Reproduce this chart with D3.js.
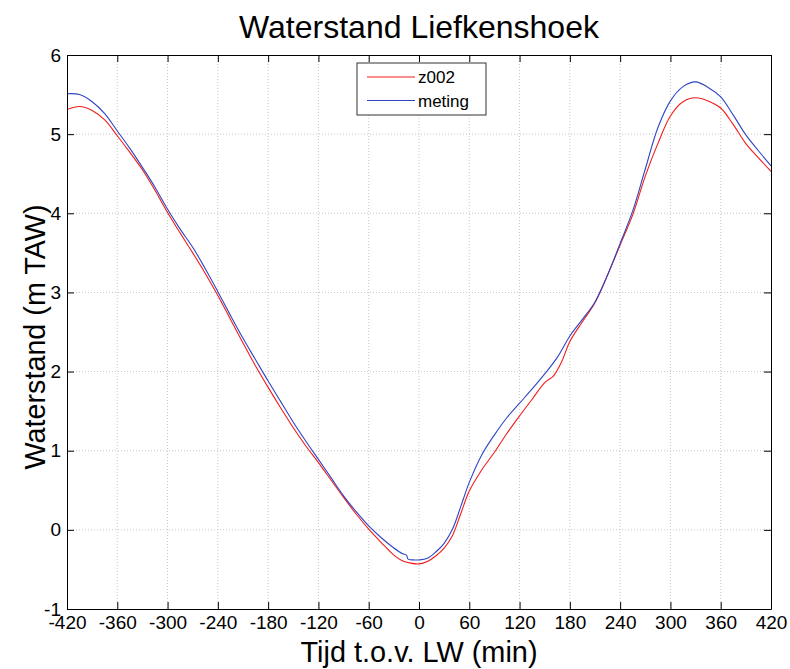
<!DOCTYPE html>
<html>
<head>
<meta charset="utf-8">
<script src="https://cdn.jsdelivr.net/npm/d3@7"></script>
<style>
  body { margin: 0; background: #fff; }
  text { font-family: "Liberation Sans", Arial, sans-serif; fill: #000; }
  .grid line { stroke: #c8c8c8; stroke-dasharray: 1,2; }
</style>
</head>
<body>
<div id="chart"></div>
<script>
// z002 model run
const timeZ002 = [-420,-405,-390,-375,-360,-345,-330,-315,-300,-285,-270,-255,-240,-225,-210,-195,-180,-165,-150,-135,-120,-105,-90,-75,-60,-45,-30,
  -20,-10,0,10,20,30,40,50,60,75,90,105,120,135,150,160,170,180,195,210,225,240,255,270,285,300,315,330,345,360,375,390,405,420];
const levelZ002 = [5.31,5.35,5.30,5.18,4.98,4.77,4.55,4.29,4.01,3.75,3.50,3.24,2.96,2.66,2.36,2.07,1.80,1.54,1.29,1.06,0.85,0.63,0.41,0.20,0.01,-0.16,-0.32,
  -0.39,-0.42,-0.43,-0.40,-0.33,-0.23,-0.07,0.21,0.49,0.76,0.98,1.22,1.44,1.65,1.86,1.94,2.12,2.38,2.63,2.87,3.22,3.60,3.98,4.47,4.88,5.23,5.41,5.46,5.42,5.33,5.12,4.88,4.70,4.53];

// meting (measurement)
const timeMeting = [-420,-405,-390,-375,-360,-345,-330,-315,-300,-285,-270,-255,-240,-225,-210,-195,-180,-165,-150,-135,-120,-105,-90,-75,-60,-45,-30,
  -20,-15,-13,-5,0,10,20,30,40,50,60,75,90,105,120,135,150,165,180,195,210,225,240,255,270,285,300,315,330,345,360,375,390,405,420];
const levelMeting = [5.51,5.50,5.41,5.26,5.04,4.82,4.58,4.33,4.05,3.80,3.57,3.30,3.01,2.71,2.42,2.15,1.88,1.62,1.36,1.12,0.89,0.66,0.43,0.23,0.05,-0.10,-0.23,
  -0.30,-0.32,-0.37,-0.38,-0.38,-0.36,-0.28,-0.17,0.01,0.30,0.60,0.95,1.20,1.42,1.60,1.78,1.97,2.18,2.45,2.66,2.88,3.22,3.62,4.03,4.56,5.08,5.42,5.60,5.66,5.59,5.47,5.24,4.99,4.79,4.60];

const xTicks = [-420,-360,-300,-240,-180,-120,-60,0,60,120,180,240,300,360,420];
const yTicks = [-1,0,1,2,3,4,5,6];
const seriesNames = ["z002", "meting"];
const seriesColors = ["#f21c1c", "#2f45c4"];

const W = 790, H = 669;
const MARGIN = { top: 55, right: 19, bottom: 60, left: 67 };
const innerW = W - MARGIN.left - MARGIN.right;
const innerH = H - MARGIN.top - MARGIN.bottom;

const svg = d3.select("#chart").append("svg").attr("width", W).attr("height", H);
const g = svg.append("g").attr("transform", `translate(${MARGIN.left},${MARGIN.top})`);

const x = d3.scaleLinear().domain([-420, 420]).range([0, innerW]);
const y = d3.scaleLinear().domain([-1, 6]).range([innerH, 0]);

// plain hyphen minus, like the original figure
const fmtTick = d => String(d);

// grid
const grid = g.append("g").attr("class", "grid");
grid.selectAll("line.gx").data(xTicks.slice(1, -1)).enter().append("line")
  .attr("x1", d => x(d)).attr("x2", d => x(d)).attr("y1", 0).attr("y2", innerH);
grid.selectAll("line.gy").data(yTicks.slice(1, -1)).enter().append("line")
  .attr("y1", d => y(d)).attr("y2", d => y(d)).attr("x1", 0).attr("x2", innerW);

// series
const series = [
  { name: seriesNames[0], color: seriesColors[0], data: timeZ002.map((t, i) => ({ t, v: levelZ002[i] })) },
  { name: seriesNames[1], color: seriesColors[1], data: timeMeting.map((t, i) => ({ t, v: levelMeting[i] })) }
];
const line = d3.line().x(d => x(d.t)).y(d => y(d.v)).curve(d3.curveCatmullRom.alpha(0.5));
g.selectAll("path.series").data(series).enter().append("path")
  .attr("class", "series")
  .attr("fill", "none")
  .attr("stroke", d => d.color)
  .attr("stroke-width", 1.1)
  .attr("d", d => line(d.data));

// axes: ticks inward on all four sides
const TICK = 7;
function styleAxis(sel) {
  sel.select(".domain").attr("stroke", "#000");
  sel.selectAll(".tick line").attr("stroke", "#000");
  sel.selectAll(".tick text").attr("font-size", 19).attr("font-family", "Liberation Sans, Arial, sans-serif");
}
g.append("g").attr("transform", `translate(0,${innerH})`)
  .call(d3.axisBottom(x).tickValues(xTicks).tickSize(-TICK).tickSizeOuter(0).tickPadding(7).tickFormat(fmtTick))
  .call(styleAxis);
g.append("g")
  .call(d3.axisTop(x).tickValues(xTicks).tickSize(-TICK).tickSizeOuter(0).tickFormat(""))
  .call(styleAxis);
g.append("g")
  .call(d3.axisLeft(y).tickValues(yTicks).tickSize(-TICK).tickSizeOuter(0).tickPadding(6).tickFormat(fmtTick))
  .call(styleAxis);
g.append("g").attr("transform", `translate(${innerW},0)`)
  .call(d3.axisRight(y).tickValues(yTicks).tickSize(-TICK).tickSizeOuter(0).tickFormat(""))
  .call(styleAxis);

// titles
svg.append("text").attr("x", MARGIN.left + innerW / 2).attr("y", 38)
  .attr("text-anchor", "middle").attr("font-size", 32)
  .text("Waterstand Liefkenshoek");
svg.append("text").attr("x", MARGIN.left + innerW / 2).attr("y", 662)
  .attr("text-anchor", "middle").attr("font-size", 29)
  .attr("textLength", 237).attr("lengthAdjust", "spacingAndGlyphs")
  .text("Tijd t.o.v. LW (min)");
svg.append("text")
  .attr("transform", `translate(45,${MARGIN.top + innerH / 2 + 5}) rotate(-90)`)
  .attr("text-anchor", "middle").attr("font-size", 29)
  .attr("textLength", 265).attr("lengthAdjust", "spacingAndGlyphs")
  .text("Waterstand (m TAW)");

// legend
const lg = svg.append("g").attr("transform", "translate(357,63)");
lg.append("rect").attr("width", 129).attr("height", 52)
  .attr("fill", "#fff").attr("stroke", "#333").attr("stroke-width", 1);
series.forEach((s, i) => {
  const ly = 14 + i * 23.5;
  lg.append("line").attr("x1", 10).attr("x2", 58).attr("y1", ly).attr("y2", ly)
    .attr("stroke", s.color).attr("stroke-width", 1.1);
  lg.append("text").attr("x", 61).attr("y", ly + 6).attr("font-size", 17).text(s.name);
});
</script>
</body>
</html>
